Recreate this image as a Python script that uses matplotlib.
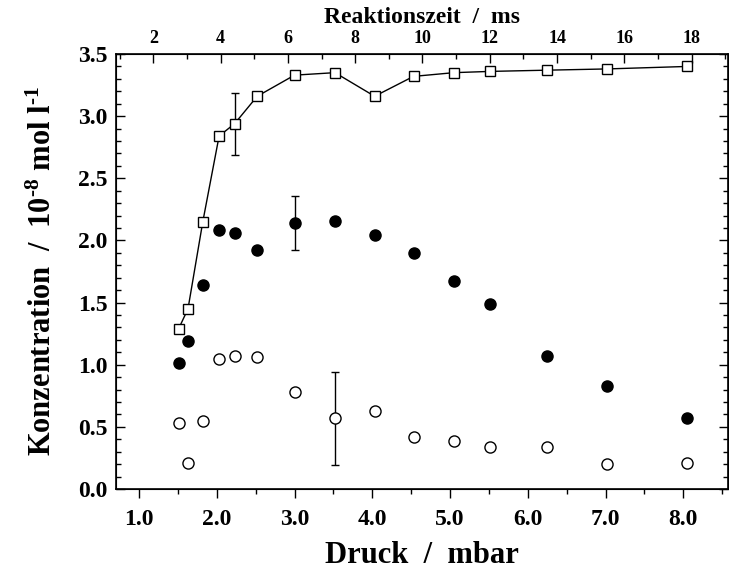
import matplotlib
matplotlib.use("Agg")
import matplotlib.pyplot as plt
from matplotlib.ticker import MultipleLocator, FormatStrFormatter

plt.rcParams['font.family'] = ['Liberation Serif', 'DejaVu Serif']
plt.rcParams['font.weight'] = 'bold'
plt.rcParams['axes.labelweight'] = 'bold'
plt.rcParams['mathtext.fontset'] = 'custom'
plt.rcParams['mathtext.rm'] = 'Liberation Serif:bold'
plt.rcParams['mathtext.bf'] = 'Liberation Serif:bold'
plt.rcParams['mathtext.default'] = 'bf'

# Druck / mbar
druck = [1.51, 1.63, 1.82, 2.03, 2.23, 2.52, 3.0, 3.52, 4.03, 4.53, 5.05, 5.51, 6.25, 7.02, 8.05]
# Konzentration / 1e-8 mol/l
quadrat = [1.29, 1.45, 2.15, 2.84, 2.94, 3.16, 3.33, 3.35, 3.16, 3.32, 3.35, 3.36, 3.37, 3.38, 3.40]
kreis_voll = [1.01, 1.19, 1.64, 2.08, 2.06, 1.92, 2.14, 2.16, 2.04, 1.90, 1.67, 1.49, 1.07, 0.83, 0.57]
kreis_offen = [0.53, 0.21, 0.55, 1.05, 1.07, 1.06, 0.78, 0.57, 0.63, 0.42, 0.39, 0.34, 0.34, 0.20, 0.21]

# einzelne Fehlerbalken
fehler_quadrat = (2.23, 2.94, 0.25)
fehler_voll = (3.0, 2.14, 0.22)
fehler_offen = (3.52, 0.57, 0.375)

fig = plt.figure(figsize=(7.29, 5.71), dpi=100)
ax = fig.add_axes([0.1587, 0.1436, 0.8400, 0.7618])

ax.plot(druck, quadrat, '-', color='black', lw=1.0, zorder=2)
ax.plot(druck, quadrat, 's', mfc='white', mec='black', mew=1.0, ms=7.5, zorder=3)
ax.plot(druck, kreis_voll, 'o', mfc='black', mec='black', ms=8, zorder=3)
ax.plot(druck, kreis_offen, 'o', mfc='white', mec='black', mew=1.0, ms=8, zorder=3)

for x, y, e in [fehler_quadrat, fehler_voll, fehler_offen]:
    ax.errorbar([x], [y], yerr=[e], fmt='none', ecolor='black', elinewidth=1.0,
                capsize=3, capthick=1.0, zorder=1)

ax.set_xlim(0.70, 8.575)
ax.set_ylim(0, 3.5)
ax.xaxis.set_major_locator(MultipleLocator(1.0))
ax.xaxis.set_minor_locator(MultipleLocator(0.5))
ax.yaxis.set_major_locator(MultipleLocator(0.5))
ax.yaxis.set_minor_locator(MultipleLocator(0.1))
ax.xaxis.set_major_formatter(FormatStrFormatter('%.1f'))
ax.yaxis.set_major_formatter(FormatStrFormatter('%.1f'))

ax.tick_params(axis='x', which='both', direction='out', top=False, labelsize=17, pad=8)
ax.tick_params(axis='y', which='both', direction='in', right=True, labelsize=17, pad=6)
ax.tick_params(which='major', length=6.5, width=1.0)
ax.tick_params(which='minor', length=3.5, width=1.0)
for s in ax.spines.values():
    s.set_linewidth(1.2)

ax.set_xlabel('Druck  /  mbar', fontsize=22, labelpad=8)
ax.set_ylabel(r'Konzentration  /  10$^{\text{-8}}$ mol l$^{\text{-1}}$', fontsize=22, labelpad=14)

ax2 = ax.twiny()
ax2.set_xlim(0.883, 19.08)
ax2.xaxis.set_major_locator(MultipleLocator(2))
ax2.xaxis.set_minor_locator(MultipleLocator(1))
ax2.tick_params(axis='x', which='both', direction='in', labelsize=13, pad=5)
ax2.tick_params(which='major', length=6.5, width=1.0)
ax2.tick_params(which='minor', length=3.5, width=1.0)
ax2.set_xlabel('Reaktionszeit  /  ms', fontsize=17, labelpad=5)

fig.savefig('out.png', dpi=100)
